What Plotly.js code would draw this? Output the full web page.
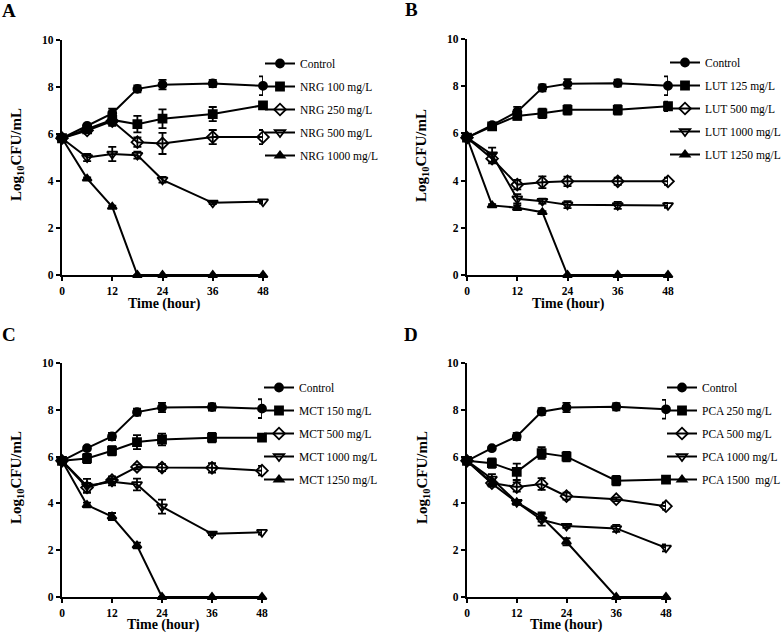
<!DOCTYPE html>
<html>
<head>
<meta charset="utf-8">
<script src="https://cdn.plot.ly/plotly-3.0.1.min.js"></script>
<style>
  html, body { margin: 0; padding: 0; background: #fff; }
  #chart { width: 781px; height: 632px; }
</style>
</head>
<body>
<div id="chart"></div>
<script>
var times = [0, 6, 12, 18, 24, 36, 48];

// Panel A - naringenin
var nrgNames = ['Control', 'NRG 100 mg/L', 'NRG 250 mg/L', 'NRG 500 mg/L', 'NRG 1000 mg/L'];
var nrgControl = [5.82, 6.35, 6.88, 7.92, 8.10, 8.15, 8.05];
var nrgControlErr = [0.1, 0.08, 0.2, 0.15, 0.2, 0.15, 0.4];
var nrg100 = [5.82, 6.20, 6.60, 6.42, 6.65, 6.85, 7.22];
var nrg100Err = [0.1, 0.1, 0.25, 0.35, 0.4, 0.3, 0.12];
var nrg250 = [5.82, 6.15, 6.55, 5.65, 5.60, 5.87, 5.87];
var nrg250Err = [0.1, 0.1, 0.15, 0.2, 0.45, 0.3, 0.3];
var nrg500 = [5.82, 5.00, 5.15, 5.10, 4.05, 3.07, 3.12];
var nrg500Err = [0.1, 0.15, 0.3, 0.15, 0.12, 0.05, 0.07];
var nrg1000 = [5.82, 4.10, 2.90, 0, 0, 0, 0];
var nrg1000Err = [0.1, 0.05, 0.05, 0, 0, 0, 0];

// Panel B - luteolin
var lutNames = ['Control', 'LUT 125 mg/L', 'LUT 500 mg/L', 'LUT 1000 mg/L', 'LUT 1250 mg/L'];
var lutControl = [5.82, 6.35, 6.92, 7.93, 8.10, 8.13, 8.02];
var lutControlErr = [0.1, 0.08, 0.2, 0.15, 0.2, 0.15, 0.4];
var lut125 = [5.82, 6.30, 6.74, 6.85, 7.00, 7.00, 7.15];
var lut125Err = [0.1, 0.08, 0.15, 0.2, 0.2, 0.2, 0.2];
var lut500 = [5.82, 4.93, 3.83, 3.93, 3.97, 3.97, 3.97];
var lut500Err = [0.1, 0.2, 0.2, 0.25, 0.2, 0.15, 0.15];
var lut1000 = [5.82, 5.10, 3.23, 3.13, 2.98, 2.95, 2.95];
var lut1000Err = [0.1, 0.3, 0.2, 0.1, 0.15, 0.15, 0.1];
var lut1250 = [5.82, 2.95, 2.85, 2.66, 0, 0, 0];
var lut1250Err = [0.1, 0.05, 0.1, 0.05, 0, 0, 0];

// Panel C - MCT
var mctNames = ['Control', 'MCT 150 mg/L', 'MCT 500 mg/L', 'MCT 1000 mg/L', 'MCT 1250 mg/L'];
var mctControl = [5.82, 6.36, 6.86, 7.90, 8.10, 8.12, 8.05];
var mctControlErr = [0.1, 0.08, 0.15, 0.15, 0.2, 0.15, 0.4];
var mct150 = [5.82, 5.92, 6.25, 6.62, 6.73, 6.81, 6.81];
var mct150Err = [0.1, 0.2, 0.2, 0.3, 0.25, 0.2, 0.15];
var mct500 = [5.82, 4.68, 5.00, 5.56, 5.53, 5.52, 5.40];
var mct500Err = [0.1, 0.2, 0.15, 0.1, 0.15, 0.2, 0.2];
var mct1000 = [5.82, 4.75, 4.92, 4.81, 3.86, 2.70, 2.77];
var mct1000Err = [0.1, 0.3, 0.15, 0.25, 0.3, 0.05, 0.1];
var mct1250 = [5.82, 3.93, 3.44, 2.20, 0, 0, 0];
var mct1250Err = [0.1, 0.1, 0.15, 0.12, 0, 0, 0];

// Panel D - PCA
var pcaNames = ['Control', 'PCA 250 mg/L', 'PCA 500 mg/L', 'PCA 1000 mg/L', 'PCA 1500  mg/L'];
var pcaControl = [5.82, 6.36, 6.86, 7.92, 8.10, 8.13, 8.02];
var pcaControlErr = [0.1, 0.05, 0.15, 0.15, 0.2, 0.15, 0.4];
var pca250 = [5.82, 5.72, 5.35, 6.15, 6.00, 4.97, 5.02];
var pca250Err = [0.1, 0.2, 0.35, 0.25, 0.2, 0.2, 0.05];
var pca500 = [5.82, 4.87, 4.70, 4.83, 4.31, 4.18, 3.88];
var pca500Err = [0.1, 0.15, 0.2, 0.25, 0.15, 0.08, 0.15];
var pca1000 = [5.82, 5.05, 4.05, 3.30, 3.03, 2.93, 2.10];
var pca1000Err = [0.1, 0.2, 0.1, 0.25, 0.08, 0.15, 0.15];
var pca1500 = [5.82, 4.85, 4.05, 3.42, 2.36, 0, 0];
var pca1500Err = [0.1, 0.1, 0.1, 0.2, 0.15, 0, 0];

var symbols = ['circle', 'square', 'diamond-open', 'triangle-down-open', 'triangle-up'];
var symbolSizes = [8, 8, 9, 9, 8];

var panels = [
    { names: nrgNames, ys: [nrgControl, nrg100, nrg250, nrg500, nrg1000],
      errs: [nrgControlErr, nrg100Err, nrg250Err, nrg500Err, nrg1000Err] },
    { names: lutNames, ys: [lutControl, lut125, lut500, lut1000, lut1250],
      errs: [lutControlErr, lut125Err, lut500Err, lut1000Err, lut1250Err] },
    { names: mctNames, ys: [mctControl, mct150, mct500, mct1000, mct1250],
      errs: [mctControlErr, mct150Err, mct500Err, mct1000Err, mct1250Err] },
    { names: pcaNames, ys: [pcaControl, pca250, pca500, pca1000, pca1500],
      errs: [pcaControlErr, pca250Err, pca500Err, pca1000Err, pca1500Err] }
];

var W = 781, H = 632;
// plot boxes in pixels: [left, right, top, bottom]
var boxes = [
    [62, 263, 40, 275],
    [467, 668, 39, 275],
    [62, 262, 363, 597],
    [467, 666, 363, 597]
];
var legendPos = [[260, 49], [665, 48], [259, 373], [662, 373]];
var letters = ['A', 'B', 'C', 'D'];
var letterPos = [[9, 11], [411, 10], [9, 334], [411, 334]];
var xTitlePos = [[164, 303.5], [568, 303.5], [163, 624.5], [566, 624.5]];
var yTitlePos = [[17, 155], [422, 155], [17, 478], [423, 478]];

var serif = "'Liberation Serif'";
var traces = [];
var layout = {
    width: W, height: H,
    margin: { l: 0, r: 0, t: 0, b: 0, autoexpand: false },
    paper_bgcolor: '#fff',
    plot_bgcolor: '#fff',
    showlegend: true,
    font: { family: serif, color: '#000' },
    annotations: []
};

function addText(text, px, py, size, angle) {
    layout.annotations.push({
        text: text, xref: 'paper', yref: 'paper',
        x: px / W, y: 1 - py / H,
        xanchor: 'center', yanchor: 'middle', showarrow: false,
        textangle: angle || 0,
        font: { family: serif, size: size, color: '#000', weight: 'bold' }
    });
}

panels.forEach(function (p, k) {
    var suf = k === 0 ? '' : String(k + 1);
    var legName = 'legend' + suf;
    p.ys.forEach(function (y, i) {
        traces.push({
            x: times,
            y: y,
            name: p.names[i],
            type: 'scatter',
            mode: 'lines+markers',
            xaxis: 'x' + suf,
            yaxis: 'y' + suf,
            legend: legName,
            legendgroup: 'g' + k + '_' + i,
            cliponaxis: false,
            line: { color: '#000', width: 2 },
            marker: { symbol: symbols[i], size: symbolSizes[i], color: '#000',
                      line: { color: '#000', width: 1.8 } },
            error_y: { type: 'data', array: p.errs[i], visible: true,
                       color: '#000', thickness: 1.8, width: 4 }
        });
    });

    var b = boxes[k];
    var axisBase = {
        showgrid: false, zeroline: false,
        showline: true, linecolor: '#000', linewidth: 2.2,
        ticks: 'outside', ticklen: 4, tickwidth: 2, tickcolor: '#000',
        tickfont: { family: serif, size: 11.5, color: '#000', weight: 'bold' },
        automargin: false,
        fixedrange: true
    };
    layout['xaxis' + suf] = Object.assign({}, axisBase, {
        domain: [b[0] / W, b[1] / W],
        range: [0, 48],
        tickvals: [0, 12, 24, 36, 48],
        anchor: 'y' + suf
    });
    layout['yaxis' + suf] = Object.assign({}, axisBase, {
        domain: [1 - b[3] / H, 1 - b[2] / H],
        range: [0, 10],
        tickvals: [0, 2, 4, 6, 8, 10],
        anchor: 'x' + suf
    });
    layout[legName] = {
        x: legendPos[k][0] / W,
        y: 1 - legendPos[k][1] / H,
        xanchor: 'left', yanchor: 'top',
        bgcolor: 'rgba(0,0,0,0)',
        font: { family: serif, size: 11.5, color: '#000' },
        traceorder: 'grouped',
        tracegroupgap: 4,
        itemwidth: 30
    };
    addText(letters[k], letterPos[k][0], letterPos[k][1], 19, 0);
    addText('Time (hour)', xTitlePos[k][0], xTitlePos[k][1], 14, 0);
    addText('Log<sub>10</sub>CFU/mL', yTitlePos[k][0], yTitlePos[k][1], 15, -90);
});

Plotly.newPlot('chart', traces, layout, { displayModeBar: false, staticPlot: true });
</script>
</body>
</html>
